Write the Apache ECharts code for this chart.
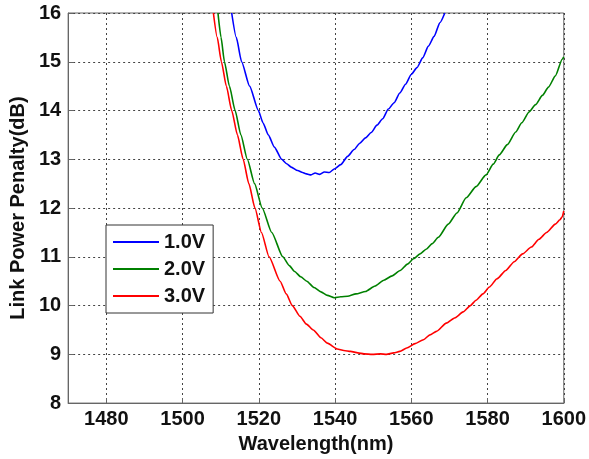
<!DOCTYPE html>
<html>
<head>
<meta charset="utf-8">
<script src="https://cdn.jsdelivr.net/npm/echarts@6/dist/echarts.min.js"></script>
<style>
  html, body { margin: 0; padding: 0; background: #fff; }
  #chart { width: 589px; height: 459px; }
</style>
</head>
<body>
<div id="chart"></div>
<script>
// Link power penalty vs wavelength for three bias voltages
const xTicks = [1480, 1500, 1520, 1540, 1560, 1580, 1600];

const wl1 = [1512.9, 1514.1, 1515.5, 1517.6, 1519.9, 1521.1, 1522.5, 1524.1,
  1526.0, 1527.3, 1528.5, 1530.2, 1531.5, 1532.5, 1533.7, 1534.8, 1536.0, 1537.2,
  1538.5, 1539.8, 1541.5, 1543.3, 1545.0, 1546.5, 1548.0, 1549.5, 1551.0, 1552.5,
  1554.0, 1555.5, 1557.0, 1558.5, 1560.0, 1561.5, 1563.0, 1564.5, 1566.0, 1567.5, 1568.8];
const pen1 = [16.0, 15.5, 15.0, 14.5, 14.0, 13.75, 13.5, 13.25,
  13.0, 12.91, 12.84, 12.77, 12.73, 12.70, 12.68, 12.72, 12.69, 12.74,
  12.73, 12.80, 12.89, 13.06, 13.20, 13.33, 13.44, 13.55, 13.70, 13.83,
  14.03, 14.16, 14.36, 14.54, 14.74, 14.88, 15.08, 15.32, 15.52, 15.80, 16.0];

const wl2 = [1509.3, 1510.1, 1511.0, 1512.3, 1513.8, 1515.3, 1517.0, 1518.9, 1520.9, 1523.4,
  1526.3, 1528.0, 1529.4, 1531.0, 1532.6, 1534.5, 1536.3, 1538.0,
  1539.8, 1541.5, 1543.3, 1545.5, 1548.0, 1550.5, 1552.8, 1555.0, 1557.1, 1559.0,
  1560.6, 1562.3, 1564.0, 1565.5, 1567.1, 1569.7, 1572.0, 1574.4, 1577.0, 1579.6,
  1581.5, 1583.1, 1585.2, 1587.4, 1589.0, 1590.9, 1592.6, 1594.4, 1596.0, 1597.8, 1599.6, 1600.0];
const pen2 = [16.0, 15.5, 15.0, 14.5, 14.0, 13.5, 13.0, 12.5, 12.0, 11.5,
  11.0, 10.82, 10.70, 10.59, 10.5, 10.37, 10.28, 10.21,
  10.16, 10.18, 10.19, 10.24, 10.29, 10.40, 10.52, 10.61, 10.72, 10.85,
  10.96, 11.06, 11.16, 11.27, 11.40, 11.67, 11.90, 12.21, 12.44, 12.68,
  12.90, 13.09, 13.30, 13.56, 13.75, 13.97, 14.12, 14.31, 14.48, 14.71, 15.05, 15.10];

const wl3 = [1508.1, 1509.1, 1510.2, 1511.5, 1512.9, 1514.4, 1515.9, 1517.4, 1519.0, 1520.7,
  1522.7, 1525.6, 1527.2, 1528.8, 1530.8, 1532.5, 1534.3,
  1536.3, 1538.0, 1540.6, 1542.3, 1544.1, 1546.0, 1547.6, 1549.8, 1551.9, 1553.5,
  1555.4, 1557.0, 1558.8, 1561.0, 1563.2, 1564.9, 1566.6, 1569.2, 1571.5, 1573.6,
  1575.5, 1577.0, 1578.8, 1580.5, 1582.5, 1584.8, 1587.0, 1589.2, 1591.5, 1593.5,
  1595.5, 1597.8, 1599.0, 1599.6, 1600.0];
const pen3 = [16.0, 15.5, 15.0, 14.5, 14.0, 13.5, 13.0, 12.5, 12.0, 11.5,
  11.0, 10.5, 10.24, 10.0, 9.78, 9.62, 9.5,
  9.34, 9.23, 9.11, 9.08, 9.06, 9.03, 9.01, 9.00, 9.01, 9.00,
  9.03, 9.06, 9.13, 9.22, 9.30, 9.40, 9.47, 9.64, 9.75, 9.87,
  10.00, 10.11, 10.24, 10.38, 10.55, 10.72, 10.90, 11.06, 11.20, 11.36,
  11.50, 11.67, 11.76, 11.82, 11.94];

const seriesNames = ['1.0V', '2.0V', '3.0V'];
const seriesColors = ['#0000ff', '#008000', '#ff0000'];

function pairs(xs, ys) { return xs.map((x, i) => [x, ys[i]]); }
const curves = [pairs(wl1, pen1), pairs(wl2, pen2), pairs(wl3, pen3)];

const FONT = 'Liberation Sans, Arial, sans-serif';
const FS = 20;
const gridLine = { color: '#444', width: 1, type: [2, 3] };
const textStyle = { fontFamily: FONT, fontWeight: 'bold', fontSize: FS, color: '#111' };

const chart = echarts.init(document.getElementById('chart'), null, { renderer: 'canvas' });
chart.setOption({
  animation: false,
  backgroundColor: '#ffffff',
  grid: { left: 65, top: 13, right: 24, bottom: 52, show: true, borderColor: '#666', borderWidth: 1, containLabel: false },
  legend: {
    left: 106, top: 225, orient: 'vertical',
    data: seriesNames,
    icon: 'rect', itemWidth: 46, itemHeight: 2, itemGap: 7,
    padding: [7, 8, 7, 7],
    borderColor: '#333', borderWidth: 1, backgroundColor: '#fff',
    textStyle: textStyle
  },
  xAxis: {
    type: 'value', min: 1470, max: 1600,
    name: 'Wavelength(nm)', nameLocation: 'middle', nameGap: 30,
    nameTextStyle: textStyle,
    axisLine: { show: true, lineStyle: { color: '#666' } },
    axisTick: { show: true, inside: true, length: 5, customValues: xTicks, lineStyle: { color: '#666' } },
    axisLabel: Object.assign({ customValues: xTicks, margin: 6, formatter: v => String(v) }, textStyle),
    splitLine: { show: true, lineStyle: gridLine }
  },
  yAxis: {
    type: 'value', min: 8, max: 16, interval: 1,
    name: 'Link Power Penalty(dB)', nameLocation: 'middle', nameGap: 35,
    nameTextStyle: textStyle,
    axisLine: { show: true, lineStyle: { color: '#666' } },
    axisTick: { show: true, inside: true, length: 5, lineStyle: { color: '#666' } },
    axisLabel: Object.assign({ margin: 7 }, textStyle),
    splitLine: { show: true, lineStyle: gridLine }
  },
  series: curves.map((d, i) => ({
    name: seriesNames[i], type: 'line', data: d,
    showSymbol: false, symbol: 'none', smooth: 0.2, smoothMonotone: 'x', clip: true,
    lineStyle: { color: seriesColors[i], width: 1.6 },
    itemStyle: { color: seriesColors[i] }
  }))
});
</script>
</body>
</html>
